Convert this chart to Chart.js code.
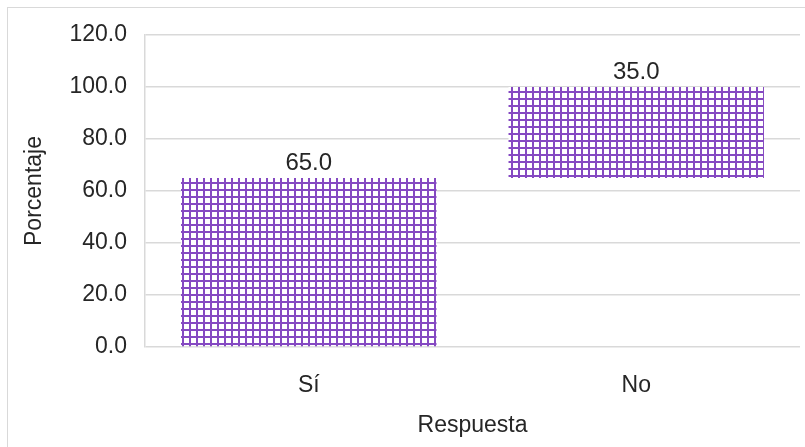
<!DOCTYPE html>
<html>
<head>
<meta charset="utf-8">
<script src="https://cdn.jsdelivr.net/npm/chart.js@4"></script>
<style>
  body { margin: 0; overflow: hidden; background: #fff; }
  #frame { position: absolute; left: 7px; top: 7px; width: 820px; height: 460px; border: 1px solid #d9d9d9; }
  #wrap { position: absolute; left: 0; top: 0; width: 805px; height: 447px; }
</style>
</head>
<body>
<div id="frame"></div>
<div id="wrap"><canvas id="respuesta-chart"></canvas></div>
<script>
// data
const categories = ["Sí", "No"];
const percentages = [65.0, 35.0];
const yTicks = [0, 20, 40, 60, 80, 100, 120];

// waterfall: each bar starts where the previous one ended
let running = 0;
const floating = percentages.map(v => {
  const seg = [running, running + v];
  running += v;
  return seg;
});

// purple grid hatch
function gridPattern() {
  const size = 7;
  const c = document.createElement("canvas");
  c.width = size;
  c.height = size;
  const ctx = c.getContext("2d");
  ctx.fillStyle = "#ffffff";
  ctx.fillRect(0, 0, size, size);
  ctx.fillStyle = "#8549c2";
  ctx.fillRect(0, 0, size, 2);
  ctx.fillRect(0, 0, 2, size);
  return ctx.createPattern(c, "repeat");
}

Chart.defaults.font.family = "'Liberation Sans', Arial, sans-serif";
Chart.defaults.color = "#262626";

// value labels above each bar
const valueLabels = {
  id: "valueLabels",
  afterDatasetsDraw(chart) {
    const ctx = chart.ctx;
    const meta = chart.getDatasetMeta(0);
    ctx.save();
    ctx.font = "24px 'Liberation Sans', Arial, sans-serif";
    ctx.fillStyle = "#262626";
    ctx.textAlign = "center";
    ctx.textBaseline = "bottom";
    meta.data.forEach((bar, i) => {
      ctx.fillText(percentages[i].toFixed(1), bar.x, bar.y - 3);
    });
    ctx.restore();
  }
};

let chartId = document.getElementById("respuesta-chart");

let RespuestaChart = new Chart(chartId, {
  type: "bar",
  data: {
    labels: categories,
    datasets: [
      {
        data: floating,
        backgroundColor: gridPattern(),
        borderWidth: 0,
        barPercentage: 0.78,
        categoryPercentage: 1.0
      }
    ]
  },
  options: {
    responsive: true,
    maintainAspectRatio: false,
    animation: false,
    layout: { padding: { left: 10, right: 5, top: 35, bottom: 4 } },
    plugins: {
      legend: { display: false },
      tooltip: { enabled: false }
    },
    scales: {
      x: {
        grid: { display: false },
        border: { display: false },
        ticks: { font: { size: 23 }, padding: 17, color: "#262626" },
        title: { display: true, text: "Respuesta", font: { size: 23 }, color: "#262626", padding: { top: 4, bottom: 4 } },
        afterFit(scale) { scale.height = 96; }
      },
      y: {
        min: 0,
        max: 120,
        afterBuildTicks(scale) { scale.ticks = yTicks.map(v => ({ value: v })); },
        ticks: {
          font: { size: 23 },
          padding: 18,
          color: "#262626",
          callback: v => Number(v).toFixed(1)
        },
        grid: { color: "#d9d9d9", lineWidth: 1.5, drawTicks: false },
        border: { display: true, color: "#d9d9d9", width: 1.5 },
        title: { display: true, text: "Porcentaje", font: { size: 23 }, color: "#262626", padding: { top: 11, bottom: 4 } },
        afterFit(scale) { scale.width = 135; }
      }
    }
  },
  plugins: [valueLabels]
});
</script>
</body>
</html>
